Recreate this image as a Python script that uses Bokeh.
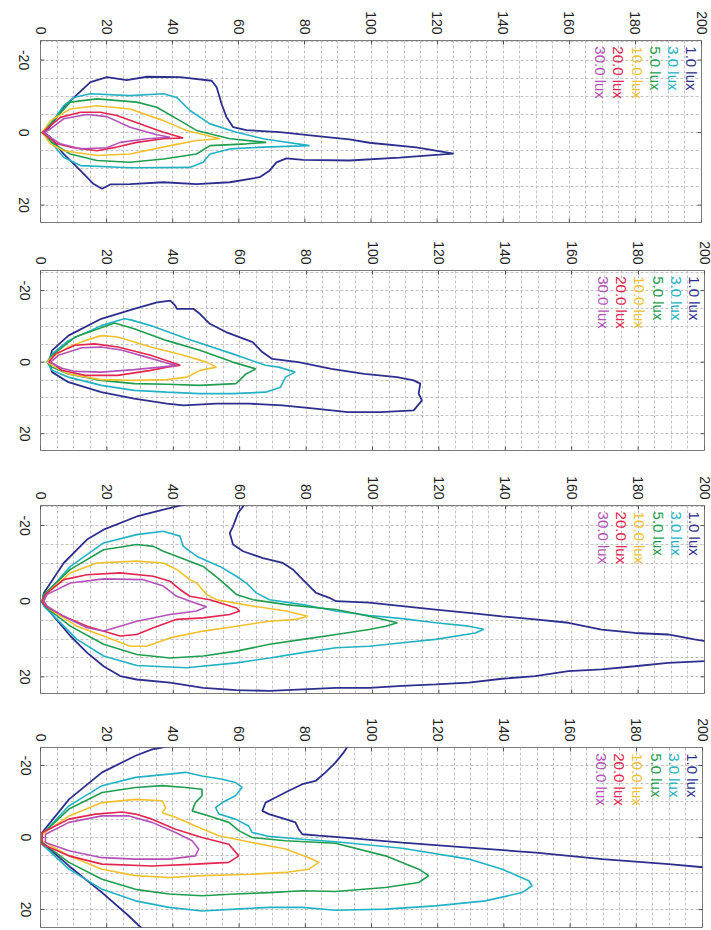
import math
from bokeh.plotting import figure
from bokeh.layouts import column
from bokeh.models import Range1d, FixedTicker, Label, CustomJSTickFormatter
from bokeh.embed import file_html
from bokeh.resources import INLINE

# ---------------- data ----------------
levels = ["1.0 lux", "3.0 lux", "5.0 lux", "10.0 lux", "20.0 lux", "30.0 lux"]
colors = ["#2e2e8f", "#22b2c4", "#1f9e4f", "#f2c12e", "#e3254f", "#b452b8"]
x_ticks = [0, 20, 40, 60, 80, 100, 120, 140, 160, 180, 200]
y_ticks = [-20, 0, 20]
y_tick_labels = ["-20", "0", "20"]
grid_x = [0, 5, 10, 15, 20, 25, 30, 35, 40, 45, 50, 55, 60, 65, 70, 75, 80, 85, 90, 95, 100,
          105, 110, 115, 120, 125, 130, 135, 140, 145, 150, 155, 160, 165, 170, 175, 180,
          185, 190, 195, 200]
grid_y = [-25, -20, -15, -10, -5, 0, 5, 10, 15, 20, 25]

# contour points: (distance, lateral offset)
# Panel 1
p1_1 = [(1, 0), (2.0, -0.6), (7.0, -7.0), (15.1, -13.9), (20.1, -15.3), (26.1, -14.5), (32.2, -15.4),
        (42.2, -15.3), (51.8, -14.3), (53.3, -12.5), (54.8, -7.9), (56.3, -4.2), (58.3, -1.5),
        (62.3, -0.7), (72.4, -0.1), (87.4, 1.3), (93.5, 1.9), (99.5, 2.8), (113.7, 4.1), (125.0, 5.8),
        (120.7, 6.1), (108.6, 6.9), (93.5, 7.7), (79.5, 7.5), (74.4, 7.1), (71.4, 8.2), (69.3, 10.5),
        (66.3, 12.3), (57.3, 13.7), (47.2, 14.2), (37.2, 13.7), (27.1, 14.2), (21.1, 14.3),
        (18.6, 15.5), (16.1, 14.2), (12.1, 10.5), (7.0, 5.9), (3.0, 1.3), (1, 0)]
p1_3 = [(0.5, 0), (2, -1), (7, -7.4), (10.1, -9.7), (15.1, -10.7), (27.1, -10.2), (37.2, -10.7),
        (41.2, -9.7), (45.2, -6.1), (51.3, -2.4), (59.3, -0.1), (67.3, 1.7), (81.4, 3.6), (67.3, 4.0),
        (57.3, 4.5), (51.3, 5.9), (49.2, 8.2), (45.2, 9.6), (27.1, 9.7), (12.1, 9.1), (7, 6.8),
        (2, 1.3), (0.5, 0)]
p1_5 = [(0.5, 0), (3, -2.4), (9, -8.4), (17.1, -9.3), (29.1, -8.4), (35.2, -7.0), (42.2, -3.3),
        (47.2, -0.6), (57.3, 1.7), (68.3, 2.7), (62.3, 3.1), (51.3, 3.6), (47.2, 5.9), (37.2, 7.3),
        (27.1, 8.2), (17.1, 7.7), (9, 5.9), (4, 3.1), (0.5, 0)]
p1_10 = [(0.5, 0), (3, -3.3), (9, -6.5), (17.1, -7.4), (27.1, -6.5), (37.2, -3.3), (44.2, -0.6),
         (54.3, 1.7), (47.2, 2.2), (39.2, 3.6), (27.1, 5.9), (17.1, 6.3), (7, 5.0), (3, 3.1), (0.5, 0)]
p1_20 = [(0.5, 0), (2.5, -1.5), (6, -4.2), (12.1, -5.6), (18.1, -5.6), (23.1, -4.7), (30.2, -2.4),
         (37.2, -0.1), (43.2, 1.5), (37.2, 1.7), (29.1, 2.7), (23.1, 4.0), (17.1, 5.0), (9, 4.0),
         (5, 3.1), (2.5, 1.3), (0.5, 0)]
p1_30 = [(1, 0), (3, -1.0), (7, -3.8), (14.1, -5.0), (20.1, -4.4), (27.1, -1.5), (35.2, 0.6),
         (39.2, 1.3), (32.2, 1.7), (24.1, 2.7), (20.1, 4.2), (12.1, 4.5), (6, 3.1), (3, 1.3), (1, 0)]

# Panel 2
p2_1 = [(2.5, 0), (3.5, -3.3), (8.4, -7.4), (18.3, -12.1), (28.2, -14.9), (35.1, -16.7), (39.1, -17.2),
        (40.6, -15.8), (41.1, -14.9), (46.0, -14.9), (48.0, -13.5), (51.0, -10.7), (55.9, -8.4),
        (59.9, -7.0), (63.9, -5.6), (66.8, -2.8), (69.8, -0.9), (77.7, 0), (87.6, 1.9), (97.5, 3.3),
        (107.4, 4.2), (112.4, 5.1), (114.4, 6.0), (113.9, 8.8), (114.9, 10.7), (112.4, 13.5),
        (102.5, 14.0), (92.6, 14.0), (82.7, 13.0), (72.8, 12.1), (62.9, 11.6), (53.0, 11.6),
        (43.1, 12.1), (38.1, 11.6), (28.2, 10.2), (18.3, 8.4), (8.4, 5.6), (3.5, 2.8), (2.5, 0)]
p2_3 = [(2, 0), (3.5, -2.3), (8.4, -6.0), (18.3, -10.2), (25.2, -12.1), (27.2, -11.8), (33.2, -10.2),
        (44.1, -6.5), (57.9, -2.3), (67.8, 0.9), (71.8, 1.4), (76.7, 2.8), (73.8, 4.2), (72.3, 7.0),
        (67.8, 8.4), (57.9, 8.8), (48.0, 8.8), (38.1, 8.4), (28.2, 7.9), (18.3, 6.5), (8.4, 4.2),
        (3.5, 2.3), (2, 0)]
p2_5 = [(2, 0), (3.5, -1.9), (10.4, -7.0), (22.3, -10.9), (28.2, -9.3), (38.1, -6.0), (48.0, -3.3),
        (57.9, 0), (64.9, 1.9), (61.9, 3.3), (58.9, 6.0), (48.0, 6.5), (38.1, 6.2), (28.2, 6.0),
        (18.3, 5.1), (8.4, 3.3), (3.5, 1.4), (2, 0)]
p2_10 = [(2, 0), (3.5, -1.4), (8.4, -4.2), (13.4, -6.0), (18.3, -7.4), (23.3, -7.0), (33.2, -4.2),
         (43.1, -1.9), (50.0, 0), (53.0, 1.4), (48.0, 2.3), (44.1, 4.2), (38.1, 4.9), (28.2, 5.1),
         (18.3, 4.9), (8.4, 3.3), (4.5, 1.4), (2, 0)]
p2_20 = [(2.5, 0), (4.5, -2.3), (10.4, -4.7), (16.3, -5.1), (23.3, -4.2), (33.2, -1.9), (42.1, 0.9),
         (38.1, 1.4), (33.2, 2.3), (23.3, 3.7), (13.4, 3.7), (6.4, 2.3), (4, 0.5), (2.5, 0)]
p2_30 = [(3, 0), (5.4, -1.9), (12.4, -4.0), (18.3, -4.2), (24.3, -3.4), (31.2, -1.6), (39.1, 0.5),
         (41.1, 0.9), (36.1, 1.4), (28.2, 2.1), (18.3, 2.8), (10.4, 2.6), (6.4, 1.7), (3, 0)]

# Panel 3 (1.0 lux leaves the plot: two visible pieces)
p3_1a = [(43.5, -25.6), (37, -24.2), (29, -22.4), (19, -18.9), (14, -16.3), (7, -10.1), (1, -2.2),
         (0.5, 0.4), (4, 4.0), (9, 9.2), (14, 13.6), (19, 17.2), (24, 19.8), (29, 20.7), (39, 21.5),
         (49, 22.9), (59, 23.5), (69, 23.7), (79, 23.3), (89, 22.9), (99, 22.9), (109, 22.4),
         (119, 22.0), (129, 21.5), (139, 20.5), (149, 19.8), (159, 18.5), (169, 18.0), (179, 17.2),
         (189, 16.3), (200.5, 15.8)]
p3_1b = [(61.5, -25.6), (59.5, -23.3), (58, -19.8), (57, -18.0), (58, -15.0), (61, -13.2), (67, -11.4),
         (73, -10.1), (76, -8.4), (79, -5.7), (83, -2.2), (87, -0.9), (89, 0), (99, 0.4), (109, 1.3),
         (119, 2.2), (129, 3.1), (139, 4.0), (149, 4.8), (159, 5.7), (169, 7.5), (179, 8.4),
         (189, 8.8), (197, 10.1), (200.5, 10.6)]
p3_3 = [(0.5, 0), (1, -1.3), (9, -9.2), (19, -15.4), (29, -17.6), (37, -18.5), (42, -17.2), (43, -14.5),
        (47, -11.9), (54, -9.2), (59, -6.6), (62, -4.8), (65, -2.2), (69, -0.4), (79, 0.9), (89, 2.6),
        (99, 3.8), (109, 4.6), (119, 5.7), (129, 6.6), (133.5, 7.4), (131, 8.4), (119, 10.1),
        (109, 11.0), (99, 11.9), (89, 12.3), (79, 13.6), (69, 15.0), (59, 16.3), (44, 17.6),
        (29, 17.0), (19, 14.5), (11, 10.1), (5, 4.8), (1, 1.3), (0.5, 0)]
p3_5 = [(0.5, 0), (1, -1.8), (9, -8.4), (19, -13.6), (29, -15.0), (34, -14.5), (37, -13.2), (41, -11.9),
        (49, -9.2), (54, -5.7), (59, -1.8), (64, -0.4), (74, 0.9), (84, 1.8), (89, 2.2), (99, 4.0),
        (107.5, 5.7), (104, 6.6), (99, 7.5), (89, 8.8), (79, 10.1), (69, 11.4), (59, 13.2),
        (49, 14.5), (39, 15.0), (29, 14.1), (19, 11.4), (9, 6.6), (2, 1.8), (0.5, 0)]
p3_10 = [(0.5, 0), (2, -2.2), (9, -7.5), (17, -10.1), (29, -10.6), (37, -10.1), (41, -8.4), (45, -5.7),
         (47, -4.8), (50, -1.8), (53, -0.4), (64, 1.3), (74, 2.6), (80.5, 4.0), (77, 4.8), (69, 5.3),
         (59, 6.6), (49, 7.9), (39, 9.7), (32, 11.9), (27, 11.9), (19, 9.2), (11, 6.6), (3, 2.2),
         (0.5, 0)]
p3_20 = [(0.5, 0), (1.5, -1.8), (7, -5.7), (14, -7.0), (24, -7.5), (34, -6.6), (39, -5.3), (42, -3.1),
         (45, -1.3), (51, -0.4), (59, 1.8), (60, 2.6), (57, 3.5), (49, 4.4), (41, 4.8), (34, 7.0),
         (29, 8.8), (24, 9.2), (14, 6.6), (7, 4.0), (1.5, 1.3), (0.5, 0)]
p3_30 = [(1, 0), (2, -1.8), (9, -4.8), (19, -5.9), (31, -5.7), (37, -4.0), (41, -1.3), (47, 0.6),
         (50, 1.5), (47, 2.6), (39, 3.5), (29, 5.3), (24, 6.6), (19, 7.9), (14, 7.0), (7, 4.0),
         (2, 1.3), (1, 0)]

# Panel 4 (1.0 lux leaves the plot: two visible pieces)
p4_1a = [(39.5, -25.6), (36.8, -25), (33.7, -24.5), (28.7, -22.7), (18.6, -18.1), (8.6, -10.6),
         (0.5, -1.4), (0.5, 1.4), (8.6, 7.9), (18.6, 15.3), (26.7, 21.8), (31, 25.6)]
p4_1b = [(93, -25.6), (91.5, -23.5), (89.1, -20.8), (86.1, -18.1), (83.1, -15.7), (79.1, -14.8),
         (75.0, -13.0), (71.0, -11.1), (68.0, -9.7), (67.0, -7.4), (69.0, -6.5), (74.0, -5.1),
         (77.0, -4.2), (78.0, -2.3), (79.1, -0.9), (84.1, -0.5), (89.1, -0.2), (109.3, 1.4),
         (129.4, 2.8), (149.6, 4.2), (169.7, 6.0), (189.8, 7.4), (200.5, 8.3)]
p4_3 = [(0.5, 0), (0.5, -0.9), (8.6, -8.8), (18.6, -14.4), (28.7, -16.7), (38.8, -17.6), (43.8, -18.1),
        (48.8, -17.1), (54.9, -16.2), (58.9, -15.3), (60.9, -13.9), (58.9, -11.6), (54.9, -9.7),
        (52.9, -8.3), (53.9, -6.5), (58.9, -5.1), (62.9, -3.2), (63.9, -1.4), (69.0, -0.3),
        (79.1, 0.5), (89.1, 1.2), (109.3, 3.0), (129.4, 6.0), (139.5, 8.8), (147.5, 12.0),
        (148.5, 13.4), (145.5, 15.3), (134.4, 17.6), (119.3, 19.0), (104.2, 19.9), (89.1, 20.2),
        (79.1, 19.4), (69.0, 19.4), (58.9, 19.9), (48.8, 20.4), (38.8, 19.4), (28.7, 17.6),
        (18.6, 14.4), (8.6, 8.8), (0.5, 1.9), (0.5, 0)]
p4_5 = [(0.5, 0), (0.5, -0.9), (8.6, -7.9), (18.6, -12.5), (28.7, -13.9), (36.8, -14.4), (43.8, -13.9),
        (48.8, -13.4), (48.8, -11.6), (46.8, -9.7), (45.8, -7.4), (50.9, -6.0), (56.9, -4.2),
        (59.9, -1.9), (63.9, 0), (74.0, 0.9), (89.1, 1.6), (104.2, 5.1), (114.3, 8.8), (117.3, 10.6),
        (114.3, 12.5), (104.2, 13.9), (89.1, 15.0), (79.1, 14.8), (69.0, 15.3), (58.9, 15.7),
        (48.8, 16.2), (38.8, 15.7), (28.7, 14.4), (18.6, 11.6), (8.6, 6.9), (0.5, 1.4), (0.5, 0)]
p4_10 = [(0.5, 0), (0.5, -0.9), (8.6, -6.0), (18.6, -9.7), (28.7, -10.6), (36.8, -10.2), (37.8, -8.3),
         (36.8, -6.9), (40.8, -5.6), (46.8, -3.2), (53.9, -0.5), (63.9, 1.4), (74.0, 3.2), (81.1, 5.6),
         (84.1, 6.9), (81.1, 8.8), (74.0, 9.7), (63.9, 10.2), (48.8, 10.6), (38.8, 11.1),
         (28.7, 10.6), (18.6, 8.8), (8.6, 5.1), (0.5, 0.9), (0.5, 0)]
p4_20 = [(0.5, 0), (0.5, -1.4), (8.6, -5.1), (16.6, -6.5), (24.7, -7.1), (28.7, -6.5), (33.7, -5.1),
         (40.8, -2.3), (48.8, 0), (56.9, 1.9), (59.9, 5.1), (56.9, 6.9), (46.8, 7.4), (33.7, 7.9),
         (18.6, 7.4), (8.6, 5.1), (0.5, 1.9), (0.5, 0)]
p4_30 = [(1.5, 0), (1.5, -0.9), (8.6, -4.2), (18.6, -6.0), (26.7, -6.0), (33.7, -4.2), (40.8, -1.4),
         (45.8, 0.9), (47.8, 3.2), (46.8, 5.1), (38.8, 6.0), (28.7, 6.0), (18.6, 5.6), (8.6, 3.7),
         (1.5, 1.4), (1.5, 0)]

panel_contours = [
    [[p1_1], [p1_3], [p1_5], [p1_10], [p1_20], [p1_30]],
    [[p2_1], [p2_3], [p2_5], [p2_10], [p2_20], [p2_30]],
    [[p3_1a, p3_1b], [p3_3], [p3_5], [p3_10], [p3_20], [p3_30]],
    [[p4_1a, p4_1b], [p4_3], [p4_5], [p4_10], [p4_20], [p4_30]],
]

# ---------------- layout (pixels) ----------------
W = 711
geom = [
    dict(left=40, fw=661, top=40, fh=182, bottom=4, ytop=-25.4, ybot=24.8, ystand=17),
    dict(left=36, fw=664, top=44, fh=180, bottom=4, ytop=-25.6, ybot=24.7, ystand=16),
    dict(left=34, fw=664, top=51, fh=188, bottom=4, ytop=-25.3, ybot=24.4, ystand=16),
    dict(left=35, fw=662, top=50, fh=180, bottom=3, ytop=-25.0, ybot=25.0, ystand=15),
]

FONT = "Liberation Sans"
FONT_PX = 14
TICK_COLOR = "#555555"


def text_px(s):
    # approximate advance width of a tick label (Arial/Liberation metrics)
    return sum(0.556 * FONT_PX if ch.isdigit() else 0.333 * FONT_PX for ch in s)


figs = []
for k, g in enumerate(geom):
    p = figure(frame_width=g["fw"], frame_height=g["fh"],
               x_range=Range1d(0, 200), y_range=Range1d(g["ybot"], g["ytop"]),
               x_axis_location="above", y_axis_location="left",
               output_backend="svg", toolbar_location=None,
               min_border_left=g["left"], min_border_right=W - g["left"] - g["fw"],
               min_border_top=g["top"], min_border_bottom=g["bottom"])
    p.background_fill_color = "white"
    p.border_fill_color = "white"
    p.outline_line_color = "#7a7a7a"
    p.outline_line_width = 1

    for ax in (p.xaxis[0], p.yaxis[0]):
        ax.major_label_orientation = -math.pi / 2
        ax.major_label_text_font = FONT
        ax.major_label_text_font_size = f"{FONT_PX}px"
        ax.major_label_text_color = "#1e1e1e"
        ax.major_tick_in = 4
        ax.major_tick_out = 0
        ax.major_tick_line_color = TICK_COLOR
        ax.minor_tick_line_color = None
        ax.axis_line_color = None
    xax = p.xaxis[0]
    xax.ticker = FixedTicker(ticks=x_ticks)
    xax.major_label_standoff = 6

    # rotated lateral labels end at their anchor: anchor them half a label below each tick
    # so that every label is centred on its tick (tick marks drawn separately below)
    yax = p.yaxis[0]
    ppu_y = g["fh"] / (g["ybot"] - g["ytop"])
    yax.ticker = FixedTicker(ticks=[t + 0.5 * text_px(s) / ppu_y
                                    for t, s in zip(y_ticks, y_tick_labels)])
    yax.formatter = CustomJSTickFormatter(args=dict(labels=y_tick_labels),
                                          code="return labels[index];")
    yax.major_tick_line_color = None
    yax.major_label_standoff = g["ystand"]

    p.xgrid.ticker = FixedTicker(ticks=grid_x)
    p.ygrid.ticker = FixedTicker(ticks=grid_y)
    for gr in (p.xgrid, p.ygrid):
        gr.grid_line_color = "#c2c2c2"
        gr.grid_line_dash = "3 2"
        gr.grid_line_width = 1

    # inward ticks on the bottom, left and right edges of the box (outer half is clipped)
    p.scatter(x=x_ticks, y=[g["ybot"]] * len(x_ticks), marker="dash", angle=math.pi / 2,
              size=8, line_color=TICK_COLOR, line_width=1)
    p.scatter(x=[200] * len(y_ticks), y=y_ticks, marker="dash",
              size=8, line_color=TICK_COLOR, line_width=1)
    p.scatter(x=[0] * len(y_ticks), y=y_ticks, marker="dash",
              size=8, line_color=TICK_COLOR, line_width=1)

    for i, pieces in enumerate(panel_contours[k]):
        for pts in pieces:
            xs = [d for d, _ in pts]
            ys = [l for _, l in pts]
            p.line(xs, ys, line_color=colors[i], line_width=1.8 if i == 0 else 1.6)

    for i, lab in enumerate(levels):
        p.add_layout(Label(x=197 - 5.5 * i, y=g["ytop"] + 1.6, text=lab,
                           angle=-math.pi / 2, text_align="left", text_baseline="middle",
                           text_color=colors[i], text_font=FONT, text_font_size="15px"))
    figs.append(p)

layout = column(*figs, spacing=0)
open("out.html", "w").write(file_html(layout, INLINE))
